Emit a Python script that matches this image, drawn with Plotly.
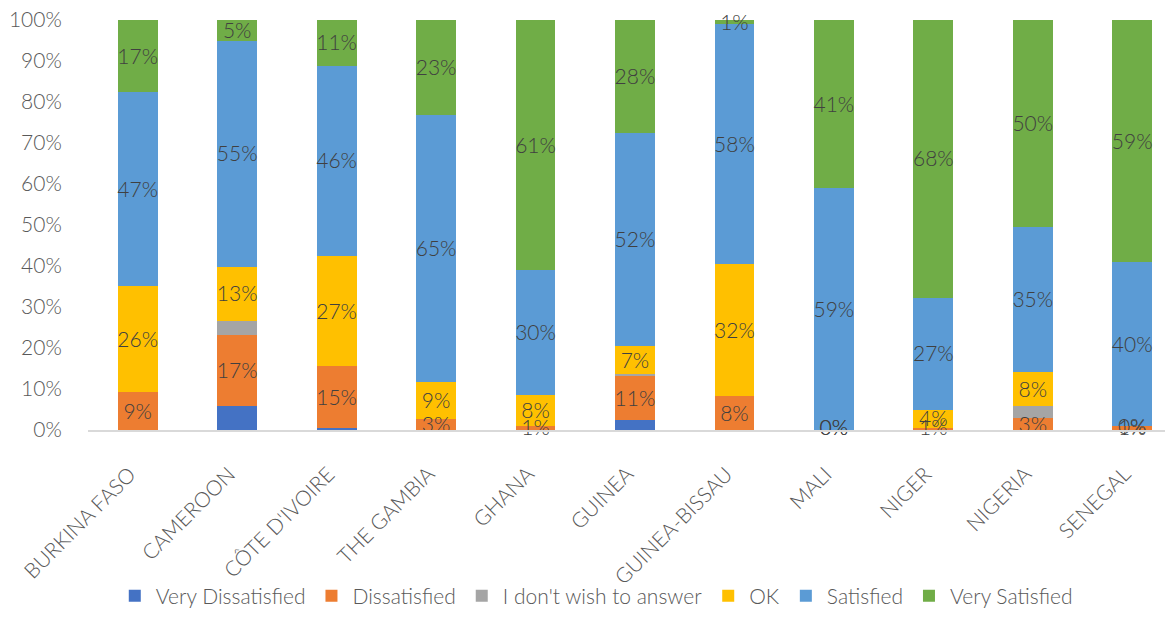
import plotly.graph_objects as go

countries = ["BURKINA FASO", "CAMEROON", "CÔTE D'IVOIRE", "THE GAMBIA", "GHANA", "GUINEA",
             "GUINEA-BISSAU", "MALI", "NIGER", "NIGERIA", "SENEGAL"]

# shares in percent
very_dissatisfied = [0, 5.8, 0.6, 0, 0, 2.5, 0, 0, 0, 0, 0]
dissatisfied = [9.2, 17.3, 15.0, 2.6, 1.0, 10.6, 8.2, 0, 0.6, 3.0, 0.9]
no_answer = [0, 3.6, 0, 0, 0, 0.5, 0, 0, 0, 2.8, 0]
ok = [25.9, 13.1, 26.9, 9.1, 7.6, 7.0, 32.4, 0, 4.4, 8.4, 0]
satisfied = [47.4, 55.2, 46.4, 65.1, 30.4, 51.8, 58.4, 59.0, 27.3, 35.4, 40.1]
very_satisfied = [17.4, 5.0, 11.1, 23.2, 61.0, 27.6, 1.0, 41.0, 67.7, 50.4, 59.0]

y_ticks = [0, 10, 20, 30, 40, 50, 60, 70, 80, 90, 100]

series = [
    ("Very Dissatisfied", very_dissatisfied, "#4472C4", False),
    ("Dissatisfied", dissatisfied, "#ED7D31", True),
    ("I don't wish to answer", no_answer, "#A5A5A5", False),
    ("OK", ok, "#FFC000", True),
    ("Satisfied", satisfied, "#5B9BD5", True),
    ("Very Satisfied", very_satisfied, "#70AD47", True),
]

FONT = "Lato, 'Open Sans', sans-serif"
LABEL_DROP = 0.006  # excel draws labels a hair below the segment middle

fig = go.Figure()
base = [0.0] * len(countries)
label_x, label_y, label_t = [], [], []
for name, vals, color, labelled in series:
    fig.add_trace(go.Bar(
        name=name, x=countries, y=[v / 100 for v in vals],
        marker=dict(color=color, line=dict(width=0)),
        hoverinfo="name+y",
    ))
    if labelled:
        for i, v in enumerate(vals):
            label_x.append(countries[i])
            # points below the axis range get dropped, so keep them at 0 at worst
            label_y.append(max((base[i] + v / 2) / 100 - LABEL_DROP, 0))
            label_t.append(f"{int(v + 0.5)}%")
    base = [b + v for b, v in zip(base, vals)]

# data labels centred in each segment
fig.add_trace(go.Scatter(
    x=label_x, y=label_y, text=label_t, mode="text", textposition="middle center",
    textfont=dict(family=FONT, size=21, color="#404040", weight=300),
    showlegend=False, hoverinfo="skip", cliponaxis=False,
))

# page body has an 8px margin, so the figure is a bit smaller than the window
fig.update_layout(
    barmode="stack",
    bargap=0.6,
    width=1165, height=609,
    margin=dict(l=80, r=0, t=12, b=182),
    plot_bgcolor="white", paper_bgcolor="white",
    font=dict(family=FONT, size=21, color="#595959", weight=300),
    legend=dict(orientation="h", x=0.468, xanchor="center", y=-0.405, yanchor="middle",
                font=dict(size=21, color="#595959", weight=300), itemwidth=32,
                traceorder="normal", bgcolor="rgba(0,0,0,0)"),
    showlegend=True,
)
fig.update_xaxes(
    range=[-0.5, 10.41], showline=True, linecolor="#D9D9D9", linewidth=1.5,
    tickangle=-45, ticks="outside", ticklen=14, tickcolor="rgba(0,0,0,0)",
    tickvals=countries, ticktext=[c + "\u00a0\u00a0" for c in countries],
    showgrid=False, tickfont=dict(size=21, color="#595959", weight=300),
    automargin=False, ticklabeloverflow="allow",
)
fig.update_yaxes(
    range=[0, 1], tickvals=[t / 100 for t in y_ticks], ticktext=[f"{t}%" for t in y_ticks],
    showgrid=False, zeroline=False, ticks="outside", ticklen=21, tickcolor="rgba(0,0,0,0)",
    tickfont=dict(size=21, color="#595959", weight=300), automargin=False,
    ticklabeloverflow="allow",
)

fig.write_html("out.html")
